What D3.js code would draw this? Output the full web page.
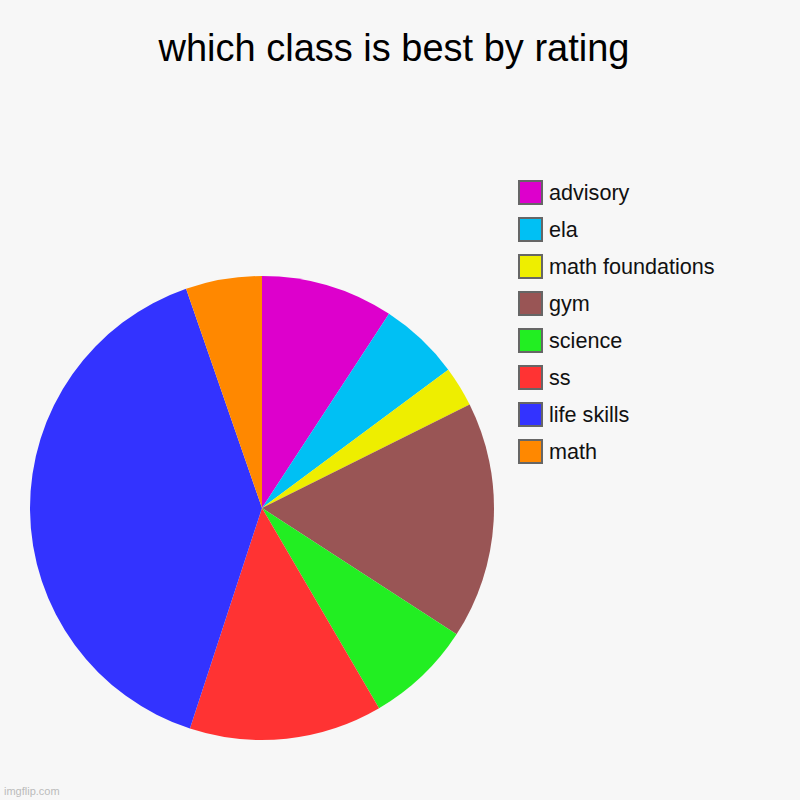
<!DOCTYPE html>
<html><head><meta charset="utf-8">
<script src="https://cdn.jsdelivr.net/npm/d3@7"></script>
<style>html,body{margin:0;padding:0;background:#f7f7f7;}svg{display:block;}</style>
</head><body>
<script>
const categories = ["advisory","ela","math foundations","gym","science","ss","life skills","math"];
const values = [33.2, 20.2, 10.1, 59.5, 26.7, 48.4, 142.8, 19.1];
const colors = ["#dd00cc","#00c0f4","#eeee00","#995555","#22ee22","#ff3333","#3333ff","#ff8800"];
const title = "which class is best by rating";

const W = 800, H = 800;
const svg = d3.select("body").append("svg").attr("width", W).attr("height", H);
svg.append("rect").attr("width", W).attr("height", H).attr("fill", "#f7f7f7");

svg.append("text").attr("x", 394).attr("y", 61).attr("text-anchor", "middle")
  .attr("font-family", "Liberation Sans, Arial, sans-serif").attr("font-size", 38)
  .attr("fill", "#000").text(title);

const data = categories.map((c, i) => ({name: c, value: values[i], color: colors[i]}));
const pie = d3.pie().sort(null).value(d => d.value);
const arc = d3.arc().innerRadius(0).outerRadius(232);
const g = svg.append("g").attr("transform", "translate(262,508)");
g.selectAll("path").data(pie(data)).join("path")
  .attr("d", arc).attr("fill", d => d.data.color);

const y = d3.scaleBand().domain(categories).range([180, 476]).paddingInner(0);
const lg = svg.append("g");
const rows = lg.selectAll("g").data(data).join("g")
  .attr("transform", d => `translate(519,${y(d.name)})`);
rows.append("rect").attr("x", 0).attr("y", 1).attr("width", 23).attr("height", 23)
  .attr("fill", d => d.color).attr("stroke", "#666").attr("stroke-width", 2);
rows.append("text").attr("x", 30).attr("y", 20)
  .attr("font-family", "Liberation Sans, Arial, sans-serif").attr("font-size", 21.6)
  .attr("fill", "#111").text(d => d.name);

svg.append("text").attr("x", 4).attr("y", 795)
  .attr("font-family", "Liberation Sans, Arial, sans-serif").attr("font-size", 11)
  .attr("fill", "#bbb").text("imgflip.com");
</script>
</body></html>
